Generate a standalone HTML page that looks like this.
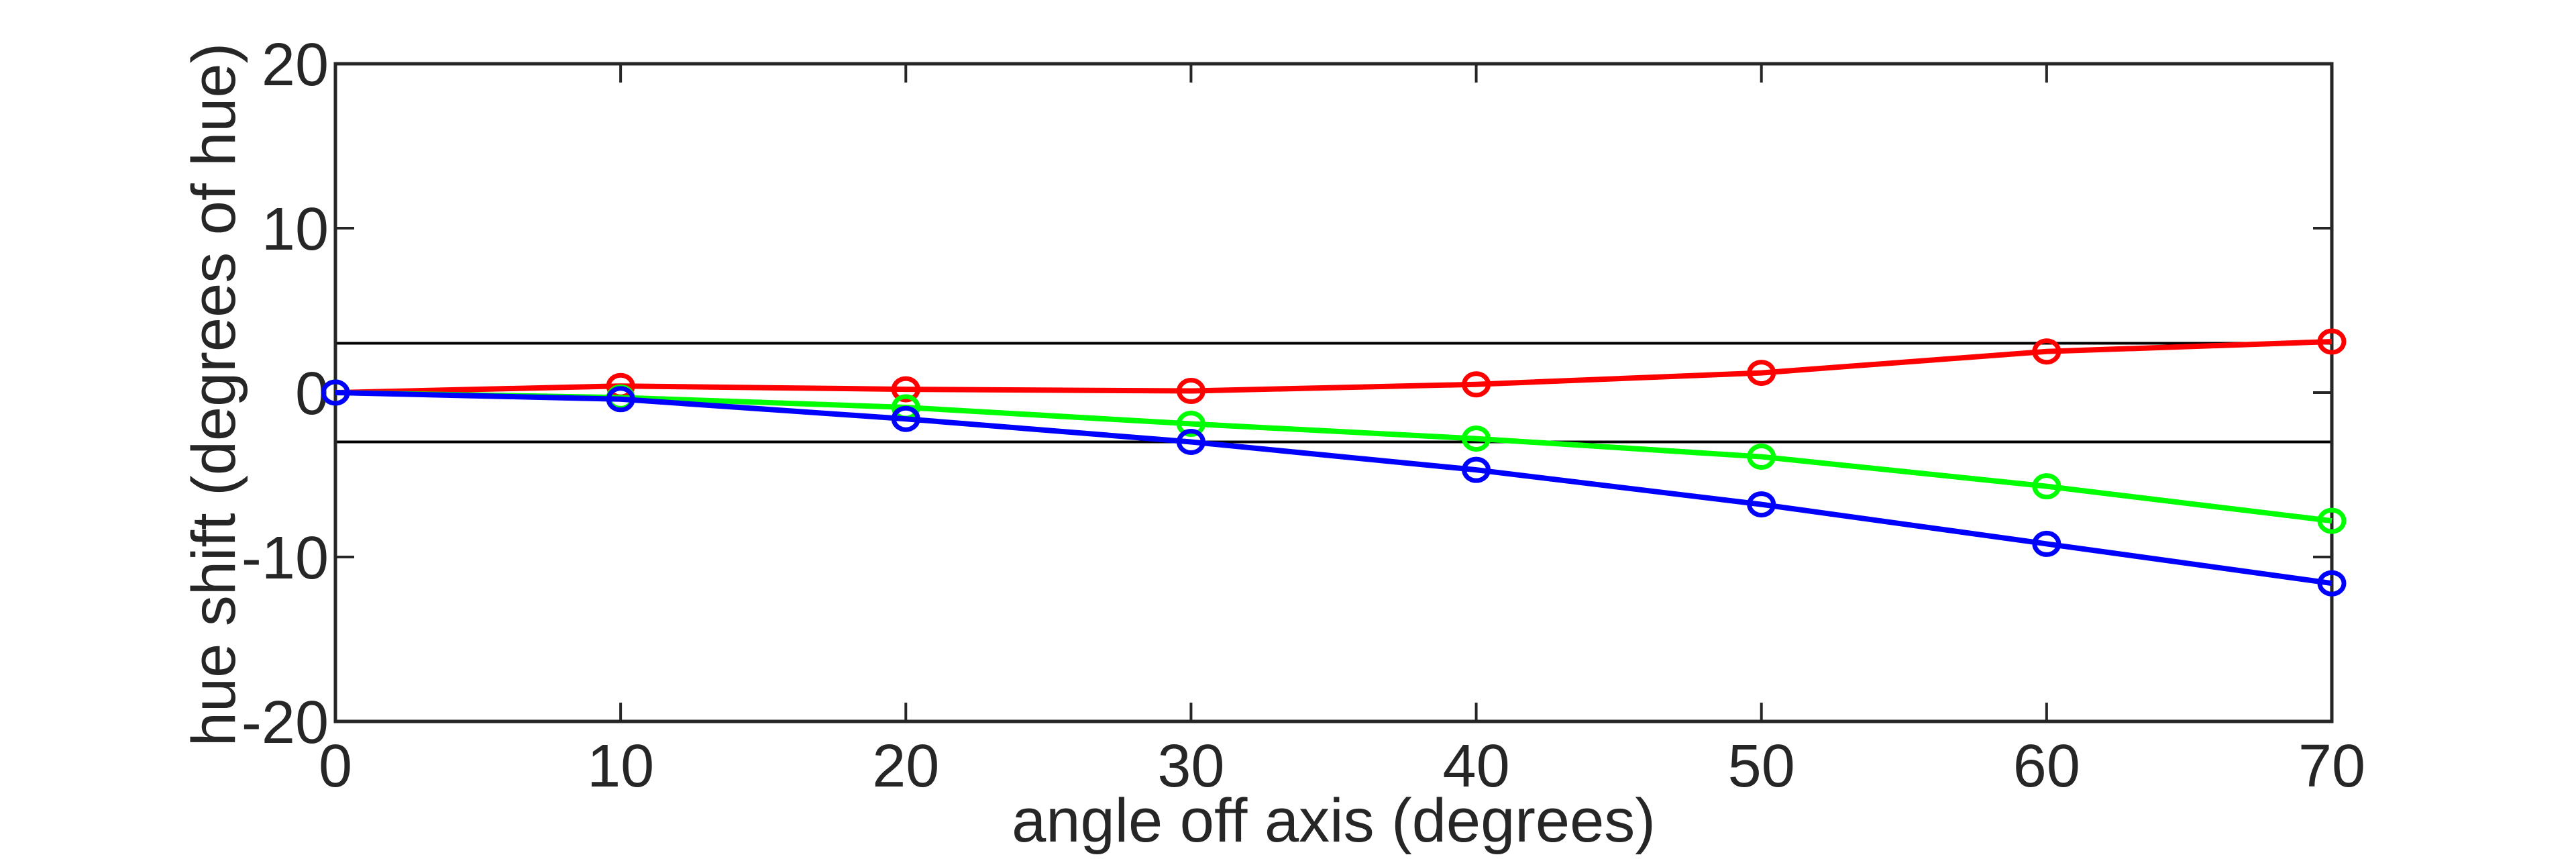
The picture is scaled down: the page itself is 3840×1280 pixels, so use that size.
<!DOCTYPE html>
<html><head><meta charset="utf-8"><style>
html,body{margin:0;padding:0;background:#fff;}
svg{display:block;}
text{font-family:"Liberation Sans",sans-serif;fill:#262626;}
</style></head><body>
<svg id="chart" width="3840" height="1280" xmlns="http://www.w3.org/2000/svg"></svg>
<script>
const xCats = [0,10,20,30,40,50,60,70];
const redVals = [0,0.4,0.2,0.1,0.5,1.2,2.5,3.1];
const greenVals = [0,-0.3,-0.9,-1.9,-2.8,-3.9,-5.7,-7.8];
const blueVals = [0,-0.4,-1.6,-3.0,-4.7,-6.8,-9.2,-11.6];
const xTicks = [0,10,20,30,40,50,60,70];
const yTicks = [-20,-10,0,10,20];
const thresholds = [3,-3];

const svg = document.getElementById('chart');
const NS = 'http://www.w3.org/2000/svg';
const L=500,R=3476,T=95,B=1075;
const xs = v => L + (v-0)/(70-0)*(R-L);
const ys = v => B - (v+20)/40*(B-T);
function mk(tag, attrs, parent){
  const e=document.createElementNS(NS,tag);
  for(const k in attrs) e.setAttribute(k,attrs[k]);
  (parent||svg).appendChild(e); return e;
}
thresholds.forEach((t,i)=>{
  const l=mk('line',{x1:L,x2:R,y1:ys(t),y2:ys(t),stroke:'#000','stroke-width':4});
  
  
});
const box=mk('rect',{x:L,y:T,width:R-L,height:B-T,fill:'none',stroke:'#262626','stroke-width':5});


xTicks.forEach(v=>{
  const x=xs(v);
  mk('line',{x1:x,x2:x,y1:B,y2:B-28,stroke:'#262626','stroke-width':4});
  mk('line',{x1:x,x2:x,y1:T,y2:T+28,stroke:'#262626','stroke-width':4});
  const t=mk('text',{x:x,y:1172,'text-anchor':'middle','font-size':90});
  t.textContent=v;
  
  
});
yTicks.forEach(v=>{
  const y=ys(v);
  mk('line',{x1:L,x2:L+28,y1:y,y2:y,stroke:'#262626','stroke-width':4});
  mk('line',{x1:R,x2:R-28,y1:y,y2:y,stroke:'#262626','stroke-width':4});
  const t=mk('text',{x:490,y:y+32,'text-anchor':'end','font-size':90});
  t.textContent=v;
  
  
});
[[redVals,'#ff0000','red'],[greenVals,'#00ff00','green'],[blueVals,'#0000ff','blue']].forEach(([vals,col,nm])=>{
  const g=mk('g',{});
  
  
  const pts=vals.map((v,i)=>xs(xCats[i])+','+ys(v)).join(' ');
  const pl=mk('polyline',{points:pts,fill:'none',stroke:col,'stroke-width':8},g);
  
  
  vals.forEach((v,i)=>{
    const c=mk('ellipse',{cx:xs(xCats[i]),cy:ys(v),rx:18,ry:16,fill:'none',stroke:col,'stroke-width':7},g);
    
    
  });
});
const xl=mk('text',{x:1988,y:1254,'text-anchor':'middle','font-size':92});
xl.textContent='angle off axis (degrees)';


const yl=mk('text',{x:0,y:0,'text-anchor':'middle','font-size':92,transform:'translate(350,588) rotate(-90)'});
yl.textContent='hue shift (degrees of hue)';


</script>
</body></html>
